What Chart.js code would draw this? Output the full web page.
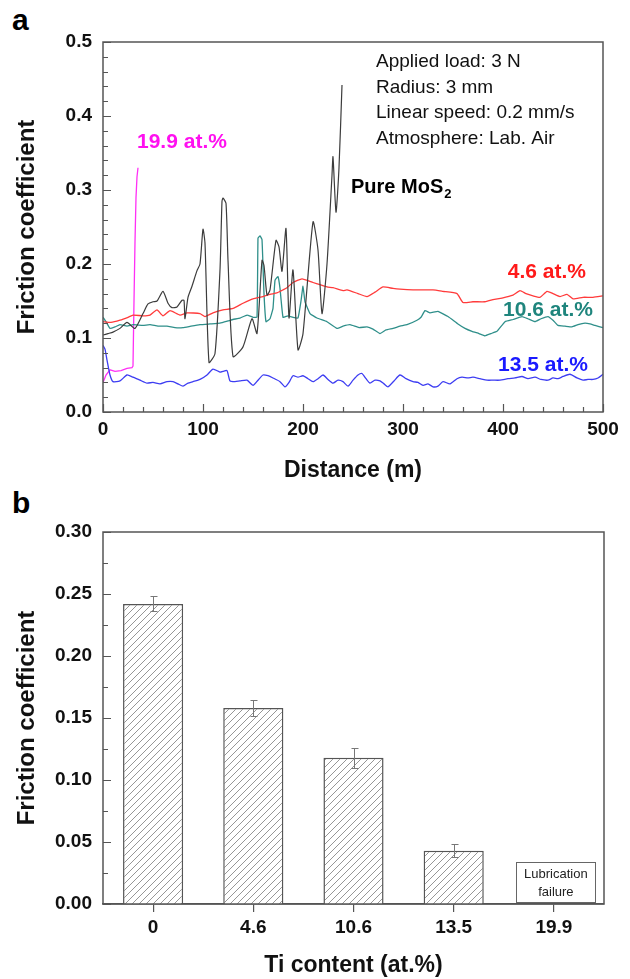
<!DOCTYPE html>
<html><head><meta charset="utf-8">
<script src="https://cdn.jsdelivr.net/npm/chart.js@4.4.1/dist/chart.umd.min.js"></script>
<style>
html,body{margin:0;padding:0;background:#fff;width:630px;height:979px;overflow:hidden;font-family:"Liberation Sans",Arial,sans-serif;}
#wrapA{position:absolute;left:0;top:0;width:630px;height:490px;}
#wrapB{position:absolute;left:0;top:490px;width:630px;height:489px;}
.lab{position:absolute;font:bold 30px "Liberation Sans",Arial,sans-serif;color:#000;}
</style></head><body>
<div class="lab" style="left:12px;top:3px;">a</div>
<div class="lab" style="left:12px;top:486px;">b</div>
<div id="wrapA"><canvas id="cA" width="630" height="490"></canvas></div>
<div id="wrapB"><canvas id="cB" width="630" height="489"></canvas></div>
<script>
// ---------- Panel a data ----------
const pureX = [0,5,10,17,24,32,40,45,50,54,60,65,69,74,79,81,82,85,89,94,97,100,102,106,112,117,119,120,123,125,130,140,149,154,159,161,164,167,173,176,179,183,186,190,195,200,210,215,219,224,229,230,233,236,239];
const pureY = [0.104,0.106,0.108,0.113,0.121,0.113,0.133,0.146,0.149,0.150,0.163,0.147,0.141,0.142,0.151,0.151,0.126,0.155,0.170,0.191,0.200,0.247,0.228,0.067,0.079,0.192,0.285,0.289,0.282,0.205,0.075,0.088,0.126,0.106,0.205,0.198,0.158,0.165,0.232,0.223,0.190,0.248,0.127,0.192,0.084,0.106,0.257,0.219,0.133,0.200,0.320,0.345,0.270,0.330,0.442];

const redX = [0,8,17,25,30,40,47,54,60,67,77,84,97,102,110,120,130,140,150,160,167,174,180,184,190,199,210,217,224,230,240,244,255,264,272,280,290,297,310,320,330,340,354,360,370,382,390,399,410,417,423,430,437,444,450,457,464,470,480,490,500];
const redY = [0.122,0.121,0.124,0.128,0.131,0.130,0.131,0.138,0.130,0.137,0.131,0.134,0.133,0.129,0.134,0.138,0.140,0.147,0.153,0.156,0.159,0.161,0.165,0.168,0.175,0.180,0.175,0.172,0.169,0.168,0.164,0.165,0.160,0.156,0.162,0.169,0.167,0.166,0.165,0.165,0.165,0.163,0.160,0.148,0.149,0.149,0.152,0.154,0.158,0.164,0.160,0.157,0.155,0.163,0.160,0.156,0.159,0.153,0.155,0.155,0.157];

const tealX = [0,3,7,12,17,24,30,40,47,55,64,72,80,88,97,107,117,125,130,137,144,150,154,155,157,159,161,163,167,170,172,175,177,180,185,190,195,198,200,202,207,214,224,234,240,247,256,264,270,277,283,290,297,304,314,318,322,327,335,345,355,362,369,376,382,388,394,402,410,419,425,432,438,445,450,455,462,469,475,482,487,492,500];
const tealY = [0.128,0.122,0.113,0.115,0.118,0.116,0.118,0.117,0.118,0.116,0.116,0.114,0.114,0.116,0.118,0.119,0.120,0.123,0.125,0.127,0.131,0.128,0.128,0.235,0.238,0.233,0.160,0.122,0.126,0.140,0.178,0.183,0.167,0.128,0.130,0.128,0.127,0.150,0.170,0.149,0.133,0.127,0.122,0.113,0.116,0.118,0.114,0.115,0.112,0.106,0.111,0.113,0.116,0.118,0.124,0.128,0.137,0.134,0.136,0.129,0.119,0.113,0.109,0.106,0.103,0.106,0.109,0.122,0.125,0.129,0.126,0.122,0.126,0.129,0.124,0.117,0.116,0.115,0.118,0.120,0.119,0.117,0.114];

const blueX = [0,2,4,7,10,17,24,30,37,44,50,57,64,70,75,80,85,90,97,104,110,117,120,124,127,132,137,144,150,155,160,165,170,177,182,186,190,195,200,205,210,215,220,225,230,235,240,245,250,255,259,263,267,272,277,281,285,291,297,303,310,315,320,325,330,335,340,347,354,359,365,370,377,384,390,397,405,412,419,425,432,438,445,450,455,460,467,474,480,485,490,495,500];
const blueY = [0.090,0.085,0.070,0.050,0.041,0.042,0.050,0.047,0.043,0.039,0.040,0.038,0.041,0.041,0.038,0.035,0.039,0.041,0.044,0.050,0.058,0.054,0.055,0.056,0.042,0.041,0.042,0.043,0.036,0.043,0.050,0.049,0.046,0.041,0.034,0.040,0.049,0.047,0.049,0.045,0.041,0.045,0.050,0.044,0.039,0.043,0.041,0.035,0.043,0.050,0.052,0.045,0.039,0.043,0.042,0.038,0.034,0.042,0.050,0.045,0.041,0.040,0.036,0.038,0.034,0.035,0.041,0.038,0.045,0.047,0.046,0.047,0.045,0.043,0.043,0.043,0.045,0.046,0.048,0.045,0.047,0.044,0.043,0.046,0.045,0.048,0.051,0.046,0.043,0.044,0.044,0.046,0.051];

const magX = [0,3,7,12,18,24,29,30,31,32,33,34,35];
const magY = [0.040,0.050,0.057,0.055,0.056,0.059,0.060,0.062,0.150,0.230,0.290,0.318,0.330];

const distanceTicks = [0,100,200,300,400,500];
const frictionTicksA = [0,0.1,0.2,0.3,0.4,0.5];

// ---------- Panel b data ----------
const tiContent = ['0','4.6','10.6','13.5','19.9'];
const meanFriction = [0.242,0.158,0.118,0.043,null];
const frictionError = [0.006,0.0063,0.008,0.0052,null];
const frictionTicksB = [0,0.05,0.10,0.15,0.20,0.25,0.30];

const FONT = '"Liberation Sans", Arial, sans-serif';
const pts = (xs, ys) => xs.map((x, i) => ({x: x, y: ys[i]}));

function frameAndTicks(minorY, majorY, minorX, majorX, drawXTicks) {
  return {
    id: 'frameTicks',
    afterDraw(chart) {
      const ctx = chart.ctx, a = chart.chartArea;
      const ys = chart.scales.y, xs = chart.scales.x;
      ctx.save();
      ctx.strokeStyle = '#555'; ctx.lineWidth = 1.5;
      ctx.strokeRect(a.left, a.top, a.right - a.left, a.bottom - a.top);
      ctx.lineWidth = 1.2;
      ctx.beginPath();
      const n = Math.round((ys.max - ys.min) / minorY);
      for (let i = 0; i <= n; i++) {
        const v = ys.min + i * minorY;
        const isMaj = Math.abs(v / majorY - Math.round(v / majorY)) < 1e-6;
        const p = Math.round(ys.getPixelForValue(v)) + 0.5;
        ctx.moveTo(a.left, p); ctx.lineTo(a.left + (isMaj ? 8 : 5), p);
      }
      if (drawXTicks) {
        const m = Math.round((xs.max - xs.min) / minorX);
        for (let i = 0; i <= m; i++) {
          const v = xs.min + i * minorX;
          const isMaj = Math.abs(v / majorX - Math.round(v / majorX)) < 1e-6;
          const p = Math.round(xs.getPixelForValue(v)) + 0.5;
          ctx.moveTo(p, a.bottom); ctx.lineTo(p, a.bottom - (isMaj ? 8 : 5));
        }
      }
      ctx.stroke();
      ctx.restore();
    }
  };
}

// annotation notes (text anchored in data space)
const notesA = [
  {text: '19.9 at.%', x: 34, y: 0.364, color: '#ff10f0', align: 'left', font: 'bold 21px ' + FONT},
  {text: '4.6 at.%', x: 483, y: 0.189, color: '#ff1a1a', align: 'right', font: 'bold 21px ' + FONT},
  {text: '10.6 at.%', x: 490, y: 0.138, color: '#1f857d', align: 'right', font: 'bold 21px ' + FONT},
  {text: '13.5 at.%', x: 485, y: 0.063, color: '#1a1aff', align: 'right', font: 'bold 21px ' + FONT}
];
const conditions = ['Applied load: 3 N', 'Radius: 3 mm', 'Linear speed: 0.2 mm/s', 'Atmosphere: Lab. Air'];

const notesPlugin = {
  id: 'notesA',
  afterDatasetsDraw(chart) {
    const ctx = chart.ctx, xs = chart.scales.x, ys = chart.scales.y;
    ctx.save();
    ctx.textBaseline = 'middle';
    notesA.forEach(n => {
      ctx.font = n.font; ctx.fillStyle = n.color; ctx.textAlign = n.align;
      ctx.fillText(n.text, xs.getPixelForValue(n.x), ys.getPixelForValue(n.y));
    });
    // Pure MoS2 label
    ctx.fillStyle = '#000'; ctx.textAlign = 'left';
    ctx.font = 'bold 20px ' + FONT;
    const px = xs.getPixelForValue(248), py = ys.getPixelForValue(0.303);
    ctx.fillText('Pure MoS', px, py);
    const w = ctx.measureText('Pure MoS').width;
    ctx.font = 'bold 13px ' + FONT;
    ctx.fillText('2', px + w + 1, py + 7);
    // Conditions
    ctx.font = '19px ' + FONT; ctx.fillStyle = '#111';
    const cx = xs.getPixelForValue(273);
    conditions.forEach((t, i) => {
      ctx.fillText(t, cx, ys.getPixelForValue(0.473) + i * 25.5);
    });
    ctx.restore();
  }
};

const lineDS = (label, xs, ys, color, w, t) => ({
  label, data: pts(xs, ys), borderColor: color, borderWidth: w || 1.2,
  pointRadius: 0, tension: t || 0, fill: false
});

new Chart(document.getElementById('cA'), {
  type: 'line',
  data: {
    datasets: [
      lineDS('Pure MoS2', pureX, pureY, '#3c3c3c', 1.2, 0.2),
      lineDS('4.6 at.%', redX, redY, '#ff3b3b', 1.3, 0.15),
      lineDS('10.6 at.%', tealX, tealY, '#2f8f8a', 1.3, 0.1),
      lineDS('13.5 at.%', blueX, blueY, '#3d3df2', 1.3, 0.2),
      lineDS('19.9 at.%', magX, magY, '#ff30f5', 1.3, 0)
    ]
  },
  options: {
    responsive: false, animation: false, devicePixelRatio: 1,
    layout: {padding: {left: 0, right: 27, top: 42, bottom: 0}},
    plugins: {legend: {display: false}, tooltip: {enabled: false}},
    scales: {
      x: {
        type: 'linear', min: 0, max: 500,
        afterFit: s => { s.height = 78; },
        afterBuildTicks: s => { s.ticks = distanceTicks.map(v => ({value: v})); },
        grid: {display: false, drawTicks: false}, border: {display: false},
        ticks: {padding: 6, color: '#111', font: {family: FONT, size: 19, weight: 'bold'}},
        title: {display: true, text: 'Distance (m)', color: '#111', padding: {top: 0, bottom: 6},
                font: {family: FONT, size: 23, weight: 'bold'}}
      },
      y: {
        min: 0, max: 0.5,
        afterFit: s => { s.width = 103; },
        afterBuildTicks: s => { s.ticks = frictionTicksA.map(v => ({value: v})); },
        grid: {display: false, drawTicks: false}, border: {display: false},
        ticks: {padding: 11, color: '#111', font: {family: FONT, size: 19, weight: 'bold'},
                callback: v => v.toFixed(1)},
        title: {display: true, text: 'Friction coefficient', color: '#111', padding: {top: 13, bottom: 0},
                font: {family: FONT, size: 24, weight: 'bold'}}
      }
    }
  },
  plugins: [frameAndTicks(0.02, 0.1, 20, 100, true), notesPlugin]
});

// ---------- Panel b ----------
function hatchPattern() {
  const c = document.createElement('canvas'); c.width = 7; c.height = 7;
  const g = c.getContext('2d');
  g.fillStyle = '#fff'; g.fillRect(0, 0, 7, 7);
  g.strokeStyle = '#8a8a8a'; g.lineWidth = 0.9;
  g.beginPath();
  g.moveTo(-1, 8); g.lineTo(8, -1);
  g.moveTo(-1, 1); g.lineTo(1, -1);
  g.moveTo(6, 8); g.lineTo(8, 6);
  g.stroke();
  return g.createPattern(c, 'repeat');
}

const errPlugin = {
  id: 'errBars',
  afterDatasetsDraw(chart) {
    const ctx = chart.ctx, ys = chart.scales.y, xs = chart.scales.x;
    ctx.save();
    ctx.strokeStyle = '#777'; ctx.lineWidth = 1;
    ctx.beginPath();
    meanFriction.forEach((m, i) => {
      if (m == null || frictionError[i] == null) return;
      const x = Math.round(xs.getPixelForValue(i)) + 0.5;
      const t = Math.round(ys.getPixelForValue(m + frictionError[i])) + 0.5;
      const b = Math.round(ys.getPixelForValue(m - frictionError[i])) + 0.5;
      ctx.moveTo(x, t); ctx.lineTo(x, b);
      ctx.moveTo(x - 3, t); ctx.lineTo(x + 4, t);
      ctx.moveTo(x - 3, b); ctx.lineTo(x + 4, b);
    });
    ctx.stroke();
    // Lubrication failure box for last category
    const i = meanFriction.length - 1;
    const cx = xs.getPixelForValue(i) + 2;
    const bw = 79, top = ys.getPixelForValue(0.0337), bot = ys.getPixelForValue(0.0013);
    ctx.strokeStyle = '#666'; ctx.lineWidth = 1;
    ctx.strokeRect(Math.round(cx - bw / 2) + 0.5, Math.round(top) + 0.5, bw, Math.round(bot - top));
    ctx.fillStyle = '#222'; ctx.font = '13px ' + FONT; ctx.textAlign = 'center'; ctx.textBaseline = 'middle';
    ctx.fillText('Lubrication', cx, top + 12.5);
    ctx.fillText('failure', cx, top + 30);
    ctx.restore();
  }
};

new Chart(document.getElementById('cB'), {
  type: 'bar',
  data: {
    labels: tiContent,
    datasets: [{
      data: meanFriction, backgroundColor: hatchPattern(), borderColor: '#555', borderWidth: 1.5,
      borderSkipped: 'bottom', barPercentage: 0.6, categoryPercentage: 1
    }]
  },
  options: {
    responsive: false, animation: false, devicePixelRatio: 1,
    layout: {padding: {left: 0, right: 26, top: 42, bottom: 0}},
    plugins: {legend: {display: false}, tooltip: {enabled: false}},
    scales: {
      x: {
        afterFit: s => { s.height = 75; },
        grid: {drawOnChartArea: false, drawTicks: true, tickLength: 8, offset: false, color: '#555', lineWidth: 1.2},
        border: {display: true, color: '#555', width: 1.5},
        ticks: {padding: 4, color: '#111', font: {family: FONT, size: 19, weight: 'bold'}},
        title: {display: true, text: 'Ti content (at.%)', color: '#111', padding: {top: 0, bottom: 0},
                font: {family: FONT, size: 23, weight: 'bold'}}
      },
      y: {
        min: 0, max: 0.3,
        afterFit: s => { s.width = 103; },
        afterBuildTicks: s => { s.ticks = frictionTicksB.map(v => ({value: v})); },
        grid: {display: false, drawTicks: false}, border: {display: false},
        ticks: {padding: 11, color: '#111', font: {family: FONT, size: 19, weight: 'bold'},
                callback: v => v.toFixed(2)},
        title: {display: true, text: 'Friction coefficient', color: '#111', padding: {top: 13, bottom: 0},
                font: {family: FONT, size: 24, weight: 'bold'}}
      }
    }
  },
  plugins: [frameAndTicks(0.025, 0.05, 1, 1, false), errPlugin]
});
</script>
</body></html>
